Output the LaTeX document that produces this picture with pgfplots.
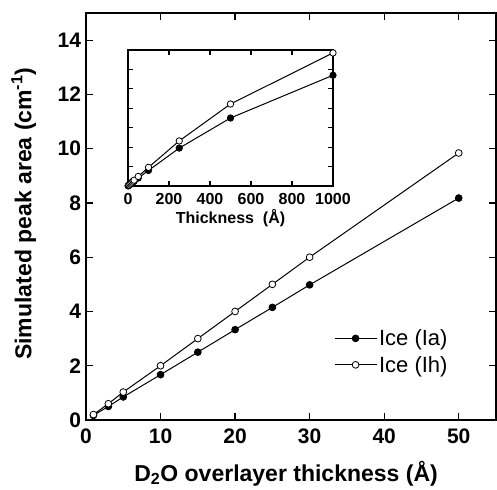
\documentclass[border=0pt]{standalone}
\usepackage{fontspec}
\setmainfont{Liberation Sans}
\usepackage{pgfplots}
\pgfplotsset{compat=1.18}
\usetikzlibrary{calc}
\begin{document}
\begin{tikzpicture}
\pgfplotsset{
  /pgf/number format/assume math mode=true,
  /pgf/number format/1000 sep={},
  every axis/.append style={line width=1.2pt},
}
\begin{axis}[
  name=main,
  at={(0,0)}, anchor=south west,
  scale only axis, width=410pt, height=407pt,
  xmin=0, xmax=55, ymin=0, ymax=15,
  xtick={0,10,20,30,40,50}, ytick={0,2,4,6,8,10,12,14},
  tick align=inside, major tick length=7pt,
  tick style={line width=1.2pt, black},
  ticklabel style={font=\bfseries\fontsize{21}{21}\selectfont},
  yticklabel style={xshift=-1pt},
  xticklabel style={yshift=-5pt},
  xlabel={D\textsubscript{2}O overlayer thickness (Å)},
  ylabel={Simulated peak area (cm\textsuperscript{-1})},
  label style={font=\bfseries\fontsize{23}{23}\selectfont},
  xlabel style={at={(axis description cs:0.488,-0.131)}, anchor=center},
  ylabel style={at={(axis description cs:-0.152,0.507)}, anchor=center},
  legend style={at={(axis cs:33.2,2.52)}, anchor=west, draw=none, fill=none,
    font=\fontsize{22}{22}\selectfont, inner sep=0pt, row sep=5pt,
    nodes={inner sep=2pt}},
  legend cell align=left,
  legend image code/.code={\draw[line width=1pt, mark repeat=2, mark phase=2] plot coordinates {(0pt,0pt) (21pt,0pt) (42pt,0pt)};},
]
\addplot[black, line width=1pt, mark=*, mark size=3.4pt, mark options={fill=black, line width=0.8pt}]
  coordinates {(1,0.17) (3,0.5) (5,0.85) (10,1.67) (15,2.5) (20,3.33) (25,4.15) (30,4.98) (50,8.18)};
\addlegendentry{Ice (Ia)}
\addplot[black, line width=1pt, mark=*, mark size=3.4pt, mark options={fill=white, line width=0.8pt}]
  coordinates {(1,0.2) (3,0.6) (5,1.03) (10,2.0) (15,3.0) (20,4.0) (25,5.0) (30,6.0) (50,9.84)};
\addlegendentry{Ice (Ih)}
\end{axis}
\begin{axis}[
  at={(42pt,234pt)}, anchor=south west,
  scale only axis, width=205pt, height=136pt,
  axis background/.style={fill=white},
  xmin=0, xmax=1000, ymin=0, ymax=140,
  xtick={0,200,400,600,800,1000}, ytick={20,40,60,80,100,120},
  yticklabels={},
  tick align=inside, major tick length=5pt,
  tick style={line width=1.2pt, black},
  ticklabel style={font=\bfseries\fontsize{16}{16}\selectfont},
  xticklabel style={yshift=-3pt},
  xlabel={Thickness\ \ (Å)},
  xlabel style={font=\bfseries\fontsize{16}{16}\selectfont, at={(axis description cs:0.5,-0.235)}, anchor=center},
]
\addplot[black, line width=1pt, mark=*, mark size=3.2pt, mark options={fill=black, line width=0.8pt}]
  coordinates {(1,0.17) (3,0.5) (5,0.85) (10,1.67) (15,2.5) (20,3.33) (25,4.15) (30,4.98) (50,8.18) (100,16) (250,39) (500,70) (1000,114)};
\addplot[black, line width=1pt, mark=*, mark size=3.2pt, mark options={fill=white, line width=0.8pt}]
  coordinates {(1,0.2) (3,0.6) (5,1.03) (10,2.0) (15,3.0) (20,4.0) (25,5.0) (30,6.0) (50,9.84) (100,19.2) (250,46.4) (500,84.4) (1000,137)};
\end{axis}
\pgfresetboundingbox
\path ($(main.south west)+(-86pt,-69pt)$) rectangle ($(main.north east)+(1pt,13pt)$);
\end{tikzpicture}
\end{document}
